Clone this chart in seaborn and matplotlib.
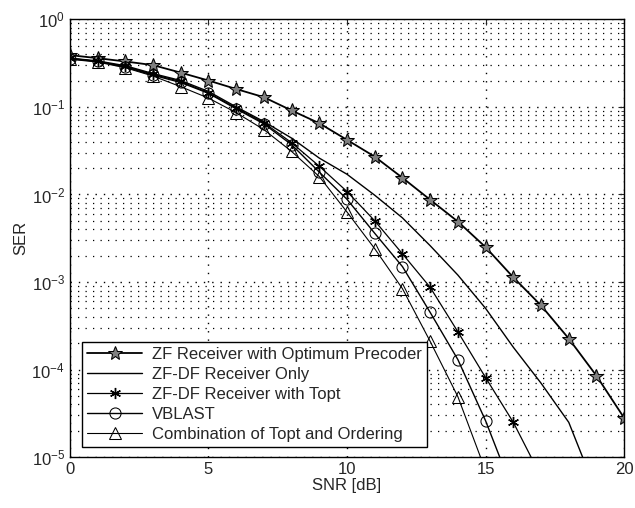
import numpy as np
import pandas as pd
import matplotlib
matplotlib.use("Agg")
import matplotlib.pyplot as plt
import seaborn as sns
from matplotlib.ticker import LogLocator, NullFormatter

# ------------------------- DATA -------------------------------
snr = list(range(0, 21))

zf_precoder = [0.39, 0.36, 0.33, 0.30, 0.246, 0.20, 0.16, 0.129, 0.091, 0.065, 0.042,
               0.027, 0.0155, 0.0087, 0.0049, 0.0025, 0.00113, 0.00054, 0.000226, 8.5e-5, 2.8e-5]
zfdf_only = [0.36, 0.335, 0.295, 0.24, 0.2, 0.15, 0.1, 0.068, 0.044, 0.026, 0.017,
             0.0098, 0.0054, 0.0026, 0.0012, 0.0005, 0.00018, 7e-5, 2.5e-5, 4e-6]
zfdf_topt = [0.36, 0.33, 0.29, 0.235, 0.195, 0.145, 0.097, 0.066, 0.039, 0.021, 0.0108,
             0.005, 0.0021, 0.00087, 0.00027, 8.1e-5, 2.5e-5, 6e-6]
vblast = [0.355, 0.33, 0.285, 0.23, 0.19, 0.143, 0.095, 0.064, 0.037, 0.018, 0.0088,
          0.0036, 0.0015, 0.00045, 0.00013, 2.6e-5, 4e-6]
combo = [0.35, 0.325, 0.28, 0.225, 0.17, 0.126, 0.086, 0.055, 0.031, 0.016, 0.0063,
         0.0024, 0.00084, 0.00021, 4.9e-5, 7e-6]

labels = ["ZF Receiver with Optimum Precoder", "ZF-DF Receiver Only",
          "ZF-DF Receiver with Topt", "VBLAST", "Combination of Topt and Ordering"]
series = [zf_precoder, zfdf_only, zfdf_topt, vblast, combo]

rows = []
for lab, vals in zip(labels, series):
    for x, v in zip(snr, vals):
        rows.append((lab, x, v))
df = pd.DataFrame(rows, columns=["curve", "SNR", "SER"])

# ------------------------- PLOT -------------------------------
sns.set_style("white")
plt.rcParams['font.family'] = ['Liberation Sans', 'DejaVu Sans']
plt.rcParams['mathtext.fontset'] = 'custom'
plt.rcParams['mathtext.rm'] = 'Liberation Sans'

fig = plt.figure(figsize=(6.35, 5.08), dpi=100)
ax = fig.add_axes([0.110, 0.100, 0.873, 0.862])

styles = {
    labels[0]: dict(marker="*", markersize=10, markerfacecolor="0.5", markeredgecolor="black", lw=1.3),
    labels[1]: dict(marker=None, lw=1.0),
    labels[2]: dict(marker=(6, 2, 0), markersize=8, markeredgecolor="black", markeredgewidth=1.0, lw=0.9),
    labels[3]: dict(marker="o", markersize=8, markerfacecolor="none", markeredgecolor="black", lw=1.0),
    labels[4]: dict(marker="^", markersize=8, markerfacecolor="none", markeredgecolor="black", lw=0.8),
}

for lab in labels:
    sub = df[df["curve"] == lab]
    sns.lineplot(data=sub, x="SNR", y="SER", ax=ax, color="black", label=lab,
                 estimator=None, sort=False, **styles[lab])

ax.set_yscale("log")
ax.set_xlim(0, 20)
ax.set_ylim(1e-5, 1)
ax.set_xticks([0, 5, 10, 15, 20])
ax.yaxis.set_major_locator(LogLocator(base=10, numticks=10))
ax.yaxis.set_minor_locator(LogLocator(base=10, subs=np.arange(2, 10), numticks=50))
ax.yaxis.set_minor_formatter(NullFormatter())

dots = (0, (1, 5))
ax.grid(True, which="major", axis="both", color="black", linestyle=dots, linewidth=1.0)
ax.grid(True, which="minor", axis="y", color="black", linestyle=dots, linewidth=0.9)

ax.tick_params(axis="both", which="both", direction="in", top=True, right=True, labelsize=12)
ax.tick_params(which="major", length=4)
ax.tick_params(which="minor", length=2)
for s in ax.spines.values():
    s.set_color("black")
    s.set_linewidth(1.0)

ax.set_xlabel("SNR [dB]", fontsize=12, labelpad=1)
ax.set_ylabel("SER", fontsize=12, labelpad=2)

leg = ax.legend(loc="lower left", bbox_to_anchor=(0.022, 0.023), fontsize=12,
                frameon=True, fancybox=False, edgecolor="black", framealpha=1,
                borderaxespad=0, handlelength=3.3, handletextpad=0.6,
                labelspacing=0.3, borderpad=0.3)
leg.get_frame().set_linewidth(1.0)

plt.savefig("out.png", dpi=100)
